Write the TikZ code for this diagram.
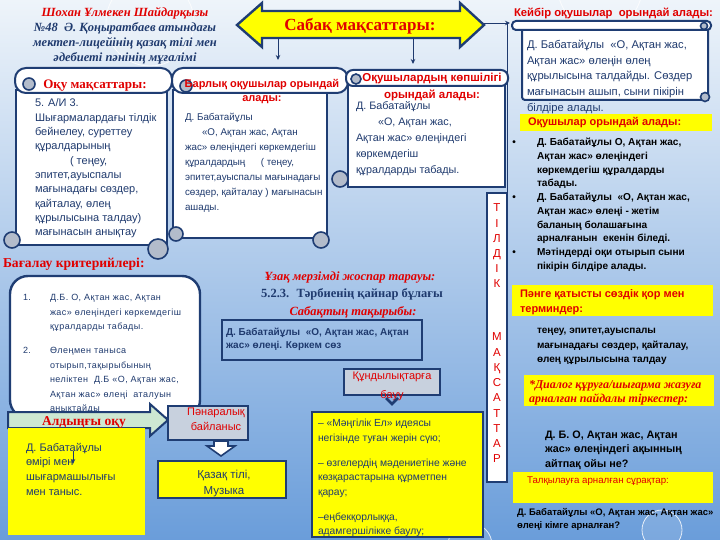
\documentclass[tikz,border=0pt]{standalone}
\usepackage{fontspec}
\setmainfont{Liberation Serif}
\setsansfont{Liberation Sans}
\usetikzlibrary{arrows.meta}
\definecolor{navy}{HTML}{1F3A6E}
\definecolor{bord}{HTML}{1F3D73}
\definecolor{tred}{HTML}{E00000}
\definecolor{yel}{HTML}{FFFF00}
\definecolor{mint}{HTML}{CDE8D2}
\definecolor{gblue}{HTML}{C8D1DE}
\definecolor{curlg}{HTML}{B3BCCB}
\definecolor{bgtop}{HTML}{EEF4FA}
\definecolor{bgmid}{HTML}{C4DAF0}
\definecolor{bgbot}{HTML}{6A9DDA}
\newcommand\fsz[2]{\fontsize{#1}{#2}\selectfont}
\begin{document}
\begin{tikzpicture}[x=1pt,y=-1pt,
  every node/.style={inner sep=0pt,outer sep=0pt},
  scrollb/.style={draw=bord,fill=white,line width=2pt},
  curlc/.style={draw=bord,fill=curlg,line width=1.6pt},
  ybox/.style={fill=yel},
  ylbox/.style={fill=yel,draw=bord,line width=1.8pt},
  conn/.style={draw=navy,line width=0.9pt,-{Stealth[length=5pt,width=4.5pt]}},
  bubble/.style={draw=white,line width=0.8pt,draw opacity=0.8,fill=white,fill opacity=0.12},
  txt/.style={anchor=north west,align=left,text=navy},
]
\useasboundingbox (0,0) rectangle (720,540);
\shade[top color=bgtop,middle color=bgmid,bottom color=bgbot] (0,0) rectangle (720,540);
% bubbles
\draw[bubble] (150,22) circle (44);
\draw[bubble] (600,-12) circle (42);
\draw[bubble] (470,545) circle (22);
\draw[bubble] (662,530) circle (20);

% ---------- top-left title
\node[anchor=north,align=center,text=navy,font=\rmfamily\bfseries\itshape\fsz{12.5}{15.2}] (author) at (125,7)
 {\textcolor{tred}{Шохан Ұлмекен Шайдарқызы}\\№48 \ Ә. Қоңыратбаев атындағы\\мектеп-лицейінің қазақ тілі мен\\әдебиеті пәнінің мұғалімі};

% ---------- central double arrow
\draw[fill=yel,draw=bord,line width=2.4pt,line join=miter]
 (237,25) -- (262,3) -- (262,11) -- (460,11) -- (460,3) -- (484,25) -- (460,47) -- (460,38) -- (262,38) -- (262,47) -- cycle;
\node[anchor=base,text=tred,font=\rmfamily\bfseries\fsz{17}{17}] (goals) at (360,31) {Сабақ мақсаттары:};
\coordinate (gR) at (484,23);
\coordinate (kL) at (510,23);
\coordinate (gD1) at (278,38);
\coordinate (s2t) at (278,60);
\coordinate (gD2) at (413,38);
\coordinate (s3t) at (413,64);
\coordinate (vTop) at (507,23);

% ---------- scroll 1: Оқу мақсаттары
\draw[scrollb] (16,90) rectangle (167,245);
\draw[scrollb,rounded corners=11] (15,68) rectangle (172,93);
\draw[curlc] (29,84) circle (6);
\draw[curlc] (12,240) circle (8);
\draw[curlc] (158,249) circle (10);
\node[anchor=base,text=tred,font=\rmfamily\bfseries\fsz{13}{13}] (s1title) at (95,88.5) {Оқу мақсаттары:};
\node[txt,font=\sffamily\fsz{11}{14.33}] (s1text) at (35,99)
 {5. А/И 3.\\Шығармалардағы тілдік\\бейнелеу, суреттеу\\құралдарының\\\hspace*{35pt}( теңеу,\\эпитет,ауыспалы\\мағынадағы сөздер,\\қайталау, өлең\\құрылысына талдау)\\мағынасын анықтау};

% ---------- scroll 2: Барлық оқушылар
\draw[scrollb] (173,90) rectangle (327,238);
\draw[scrollb,rounded corners=11] (172,68) rectangle (348,93);
\draw[curlc] (186,86) circle (6);
\draw[curlc] (176,234) circle (7);
\draw[curlc] (321,240) circle (8);
\node[anchor=north,align=center,text=tred,font=\sffamily\bfseries\fsz{11}{14}] (s2title) at (262,79) {Барлық оқушылар орындай\\алады:};
\node[txt,font=\sffamily\fsz{9.8}{15}] (s2text) at (185,113.5)
 {Д. Бабатайұлы\\\hspace*{17pt}«О, Ақтан жас, Ақтан\\жас» өлеңіндегі көркемдегіш\\құралдардың \hspace{10pt} ( теңеу,\\эпитет,ауыспалы мағынадағы\\сөздер, қайталау ) мағынасын\\ашады.};

% ---------- scroll 3: Оқушылардың көпшілігі
\draw[scrollb] (348,80) rectangle (505,187);
\draw[scrollb,rounded corners=7] (346,70) rectangle (508,86);
\draw[curlc] (356,79) circle (5);
\draw[curlc] (340,179) circle (8);
\node[anchor=north,align=center,text=tred,font=\sffamily\bfseries\fsz{11.5}{17}] (s3title) at (432,73) {Оқушылардың көпшілігі\\орындай алады:};
\node[txt,font=\sffamily\fsz{10.8}{16.2}] (s3text) at (356,101)
 {Д. Бабатайұлы\\\hspace*{22pt}«О, Ақтан жас,\\Ақтан жас» өлеңіндегі\\көркемдегіш\\құралдарды табады.};

% ---------- right column
\node[anchor=base west,text=tred,font=\sffamily\bfseries\fsz{11.3}{11.3}] (someT) at (514,17) {Кейбір оқушылар \ орындай алады:};
\draw[scrollb,rounded corners=3] (522,26) rectangle (708,100);
\draw[scrollb,rounded corners=4] (512,21) rectangle (711,30);
\draw[curlc] (704,26) circle (3.5);
\draw[curlc] (705,97) circle (4.5);
\node[txt,font=\sffamily\fsz{11.2}{15.7}] (someText) at (527,40)
 {Д. Бабатайұлы \ «О, Ақтан жас,\\Ақтан жас» өлеңін өлең\\құрылысына талдайды. Сөздер\\мағынасын ашып, сыни пікірін\\білдіре алады.};

\fill[ybox] (520,114) rectangle (712,131);
\node[anchor=base west,text=tred,font=\sffamily\bfseries\fsz{11}{11}] (doT) at (528,126) {Оқушылар орындай алады:};
\node[txt,text=black,font=\sffamily\bfseries\fsz{10.1}{13.7}] (bul) at (537,138.3)
 {\llap{•\hspace{21pt}}Д. Бабатайұлы О, Ақтан жас,\\Ақтан жас» өлеңіндегі\\көркемдегіш құралдарды\\табады.\\\llap{•\hspace{21pt}}Д. Бабатайұлы \ «О, Ақтан жас,\\Ақтан жас» өлеңі - жетім\\баланың болашағына\\арналғанын \ екенін біледі.\\\llap{•\hspace{21pt}}Мәтіндерді оқи отырып сыни\\пікірін білдіре алады.};

\fill[ybox] (512,285) rectangle (713,316);
\node[txt,text=tred,font=\sffamily\bfseries\fsz{11}{15}] (termT) at (520,290) {Пәнге қатысты сөздік қор мен\\терминдер:};
\node[txt,text=black,font=\sffamily\bfseries\fsz{10}{14.5}] (terms) at (537,328.3)
 {теңеу, эпитет,ауыспалы\\мағынадағы сөздер, қайталау,\\өлең құрылысына талдау};

\fill[ybox] (524,375) rectangle (714,406);
\node[txt,text=tred,font=\rmfamily\bfseries\itshape\fsz{12}{14.5}] (dialT) at (529,380.5) {*Диалог құруға/шығарма жазуға\\арналған пайдалы тіркестер:};
\node[txt,text=black,font=\sffamily\bfseries\fsz{10.8}{14.5}] (dial) at (545,430.5)
 {Д. Б. О, Ақтан жас, Ақтан\\жас» өлеңіндегі ақынның\\айтпақ ойы не?};

\fill[ybox] (513,472) rectangle (713,503);
\node[anchor=base west,text=tred,font=\sffamily\fsz{9.7}{9.7}] (discT) at (527,483.5) {Талқылауға арналған сұрақтар:};
\node[txt,text=black,font=\sffamily\bfseries\fsz{9.5}{13}] (disc) at (517,508.3)
 {Д. Бабатайұлы «О, Ақтан жас, Ақтан жас»\\өлеңі кімге арналған?};

% ---------- ТІЛДІК МАҚСАТТАР box
\node[draw=bord,fill=white,line width=1.5pt,minimum width=20pt,minimum height=289pt] (tildik) at (497,337.5) {};
\node[anchor=north,align=center,text=tred,font=\sffamily\fsz{11.5}{15.1}] (tl1) at (497,204)
 {Т\\І\\Л\\Д\\І\\К};
\node[anchor=north,align=center,text=tred,font=\sffamily\fsz{11.5}{15.25}] (tl2) at (497,333)
 {М\\А\\Қ\\С\\А\\Т\\Т\\А\\Р};

% ---------- connectors from the goals arrow
\draw[conn] (gR) -- (kL);
\draw[conn] (gD1) -- (s2t);
\draw[conn] (gD2) -- (s3t);
\draw[draw=navy,line width=1pt] (vTop) -- (tildik.north east);

% ---------- assessment
\node[anchor=base west,text=tred,font=\rmfamily\bfseries\fsz{13.6}{13.6}] (critT) at (3,267.5) {Бағалау критерийлері:};
\draw[draw=bord,fill=white,line width=2.4pt,rounded corners=18] (10,276) rectangle (200,418);
\node[txt,font=\sffamily\fsz{9}{14.5}\addfontfeatures{LetterSpace=5}] (crit) at (50,294.7)
 {\llap{1.\hspace{19pt}}Д.Б. О, Ақтан жас, Ақтан\\жас» өлеңіндегі көркемдегіш\\құралдарды табады.\\[9.5pt]\llap{2.\hspace{19pt}}Өлеңмен таныса\\отырып,тақырыбының\\неліктен \ Д.Б «О, Ақтан жас,\\Ақтан жас» өлеңі \ аталуын\\анықтайды};

% ---------- prior reading arrow
\draw[fill=mint,draw=bord,line width=2pt,line join=miter]
 (8,412) -- (150,412) -- (150,404) -- (168,420) -- (150,436) -- (150,428) -- (8,428) -- cycle;
\node[anchor=base,text=tred,font=\rmfamily\bfseries\fsz{13.5}{13.5}] (priorT) at (84,425.5) {Алдыңғы оқу};
\fill[ybox] (8,428) rectangle (145,535);
\node[txt,font=\sffamily\fsz{11}{14.7}] (prior) at (26,443)
 {Д. Бабатайұлы\\өмірі мен\\шығармашылығы\\мен таныс.};
\coordinate (pa1) at (73,451);
\coordinate (pa2) at (73,464);
\draw[conn,line width=0.8pt] (pa1) -- (pa2);

% ---------- interdisciplinary
\node[draw=bord,fill=gblue,line width=1.8pt,minimum width=80pt,minimum height=34pt] (inter) at (208,423) {};
\node[anchor=north,align=center,text=tred,font=\sffamily\fsz{11}{15}] (interT) at (216,408) {Пәнаралық\\байланыс};
\draw[draw=bord,fill=white,line width=1.6pt,line join=miter]
 (214,441) -- (228,441) -- (228,446) -- (235,446) -- (221,456) -- (207,446) -- (214,446) -- cycle;
\node[ylbox,minimum width=128pt,minimum height=37pt] (subj) at (222,479.5) {};
\node[anchor=north,align=center,text=navy,font=\sffamily\fsz{11.5}{16}] (subjT) at (224,470.5) {Қазақ тілі,\\Музыка};

% ---------- centre texts
\node[anchor=base,text=tred,font=\rmfamily\bfseries\itshape\fsz{12.5}{12.5}] (longT) at (350,280.5) {Ұзақ мерзімді жоспар тарауы:};
\node[anchor=base,text=navy,font=\rmfamily\bfseries\fsz{12.5}{12.5}] (sect) at (352,297) {5.2.3. \ Тәрбиенің қайнар бұлағы};
\node[anchor=base,text=tred,font=\rmfamily\bfseries\itshape\fsz{12.5}{12.5}] (topicT) at (353,315) {Сабақтың тақырыбы:};
\node[draw=bord,line width=1.4pt,minimum width=200pt,minimum height=40pt] (topic) at (322,340) {};
\node[txt,font=\sffamily\bfseries\fsz{10}{13}] (topicText) at (226,328.3)
 {Д. Бабатайұлы \ «О, Ақтан жас, Ақтан\\жас» өлеңі. Көркем сөз};

% ---------- values
\node[draw=bord,fill=gblue,line width=1.6pt,minimum width=96pt,minimum height=26pt] (val) at (392,382) {};
\node[anchor=north,align=center,text=tred,font=\sffamily\fsz{11}{19}] (valT) at (392,371.5) {Құндылықтарға\\бауу};
\draw[draw=bord,line width=2.6pt] (386,398) -- (392,404) -- (398,398);
\node[ylbox,minimum width=171pt,minimum height=125pt] (valbox) at (397.5,474.5) {};
\node[txt,font=\sffamily\fsz{10.3}{14.7}] (valText) at (318,419.3)
 {– «Мәңгілік Ел» идеясы\\негізінде туған жерін сүю;\\[10pt]– өзгелердің мәдениетіне және\\көзқарастарына құрметпен\\қарау;\\[10pt]–еңбекқорлыққа,\\адамгершілікке баулу;};
\end{tikzpicture}
\end{document}
